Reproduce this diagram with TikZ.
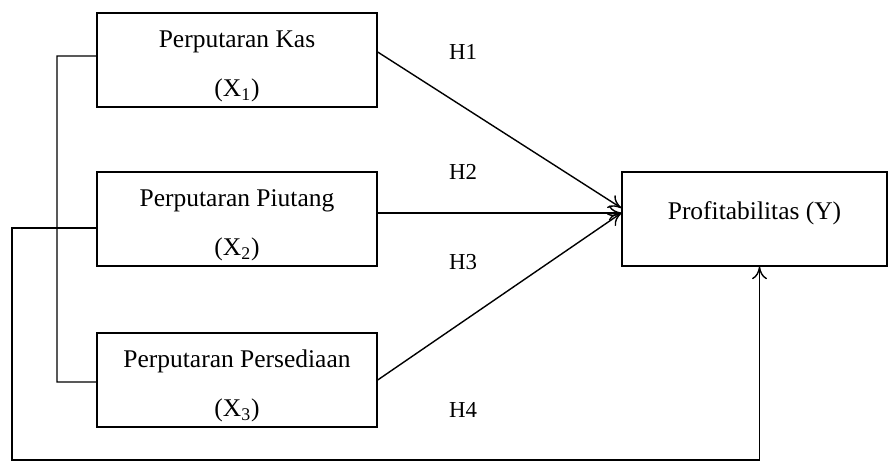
\documentclass[tikz,border=0pt]{standalone}
\usepackage{fontspec}
\setmainfont{Liberation Serif}
\usetikzlibrary{arrows.meta}
\tikzset{
  varbox/.style={draw, line width=0.8pt, minimum width=5.6cm, minimum height=1.88cm,
    inner sep=2pt, align=center, font=\fontsize{14.5}{17}\selectfont},
  hlab/.style={font=\fontsize{13}{15}\selectfont, inner sep=1pt},
  link/.style={line width=0.8pt},
  arr/.style={-{To[length=2.5mm,width=3mm]}, line width=0.8pt},
}
\newcommand{\toppad}{\rule{0pt}{16.8pt}}
\begin{document}
\begin{tikzpicture}[x=0.02cm, y=-0.02cm]
  \useasboundingbox (0,0) rectangle (888,463);
  % variables
  \node[varbox] (kas) at (237,60) {\toppad Perputaran Kas\\[11pt](X\textsubscript{1})};
  \node[varbox] (piutang) at (237,219) {\toppad Perputaran Piutang\\[11pt](X\textsubscript{2})};
  \node[varbox] (sedia) at (237,380) {\toppad Perputaran Persediaan\\[11pt](X\textsubscript{3})};
  \node[varbox, minimum width=5.3cm] (profit) at (754.5,219) {Profitabilitas (Y)\rule[-10pt]{0pt}{10pt}};
  % hypotheses
  \node[hlab] (h1) at (463,52) {H1};
  \node[hlab] (h2) at (463,172) {H2};
  \node[hlab] (h3) at (463,262) {H3};
  \node[hlab] (h4) at (463,410) {H4};
  % arrows
  \draw[arr] ([yshift=0.16cm]kas.east) -- ([yshift=0.22cm]profit.west);
  \draw[arr] ([yshift=0.12cm]piutang.east) -- ([yshift=0.12cm]profit.west);
  \draw[arr] (sedia.east) -- ([yshift=0.12cm]profit.west);
  % bracket and simultaneous path
  \draw[link] ([yshift=0.08cm]kas.west) -| (57,382) -- ([yshift=-0.04cm]sedia.west);
  \coordinate (corner) at (12,460);
  \draw[arr] ([yshift=-0.18cm]piutang.west) -| (corner) -| ([xshift=0.1cm]profit.south);
\end{tikzpicture}
\end{document}
